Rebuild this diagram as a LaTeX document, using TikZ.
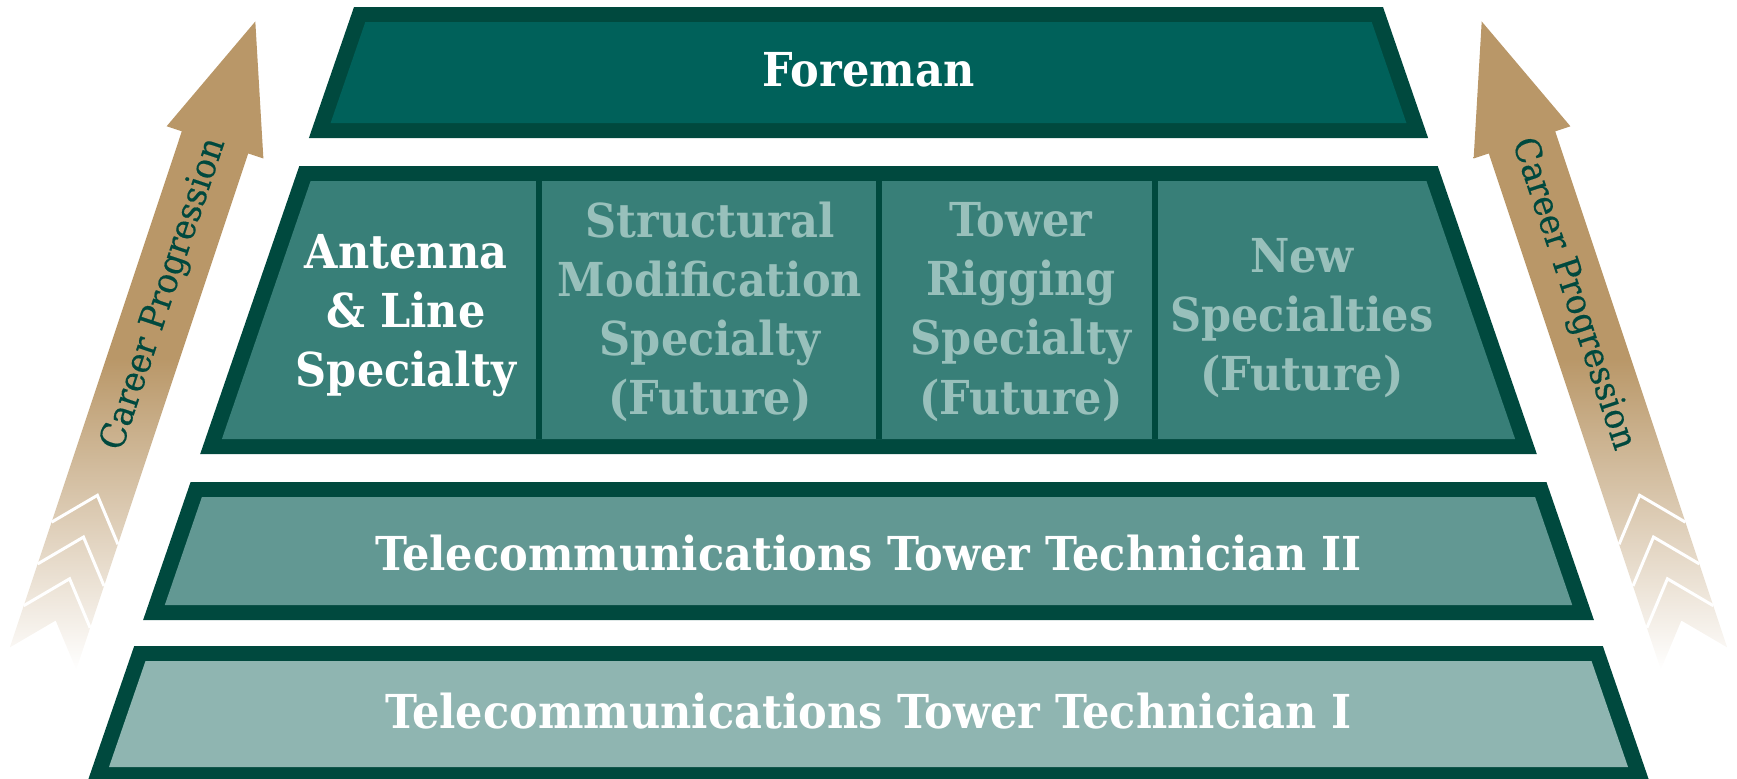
\documentclass[tikz,border=0pt]{standalone}
\usepackage{fontspec}
\setmainfont{DejaVu Serif}
\newfontfamily\tierfont{DejaVu Serif Bold}[FakeStretch=0.92]
\newfontfamily\careerfont{DejaVu Serif}[FakeStretch=0.94, FakeBold=0.4]
\usepackage{tikz}

\definecolor{pyrborder}{RGB}{0,73,62}
\definecolor{foremanfill}{RGB}{0,97,90}
\definecolor{specfill}{RGB}{56,127,120}
\definecolor{techtwofill}{RGB}{98,152,147}
\definecolor{techonefill}{RGB}{143,181,177}
\definecolor{futuretxt}{RGB}{152,192,187}
\definecolor{careergold}{RGB}{185,151,104}
\pgfdeclareverticalshading{careerfade}{100bp}{color(0bp)=(white); color(25bp)=(white); color(49bp)=(careergold); color(100bp)=(careergold)}

\tikzset{
  tiertext/.style={text=white, font=\tierfont\fontsize{13.3}{16.8}\selectfont, align=center},
  futuretext/.style={tiertext, text=futuretxt},
  careertext/.style={text=pyrborder, font=\careerfont\fontsize{10}{11}\selectfont}
}

\begin{document}
\begin{tikzpicture}[x=0.01cm, y=-0.01cm]
    \useasboundingbox (0,0) rectangle (1737,778);
    %%Foreman
    \fill[pyrborder] (354,7) -- (1383,7) -- (1428.1,138) -- (308.9,138) -- cycle;
    \fill[foremanfill] (365.3,22) -- (1371.7,22) -- (1406.4,123) -- (330.6,123) -- cycle;
    \node[tiertext] (foreman) at (868.5,70) {Foreman};
    %%Specialties
    \fill[pyrborder] (299.3,166) -- (1437.7,166) -- (1536.8,454) -- (200.2,454) -- cycle;
    \fill[specfill] (310.6,181) -- (1426.4,181) -- (1515.1,439) -- (221.9,439) -- cycle;
    \draw[pyrborder, line width=0.065cm] (539,181) -- (539,439) (879,181) -- (879,439) (1155,181) -- (1155,439);
    \node[tiertext] (antenna) at (406,316) {Antenna\\ \& Line\\ Specialty};
    \node[futuretext] (structural) at (710,312) {Structural\\ Modification\\ Specialty\\ (Future)};
    \node[futuretext] (rigging) at (1021,312) {Tower\\ Rigging\\ Specialty\\ (Future)};
    \node[futuretext] (newspec) at (1302,318) {New\\ Specialties\\ (Future)};
    %%Technician II
    \fill[pyrborder] (190.6,482) -- (1546.4,482) -- (1593.9,620) -- (143.1,620) -- cycle;
    \fill[techtwofill] (201.9,497) -- (1535.1,497) -- (1572.2,605) -- (164.8,605) -- cycle;
    \node[tiertext] (techtwo) at (868.5,553) {Telecommunications Tower Technician II};
    %%Technician I
    \fill[pyrborder] (134.2,646) -- (1602.8,646) -- (1649.6,782) -- (87.4,782) -- cycle;
    \fill[techonefill] (145.5,661) -- (1591.5,661) -- (1628,767) -- (109,767) -- cycle;
    \node[tiertext] (techone) at (868.5,711) {Telecommunications Tower Technician I};
    %%career arrow left
    \begin{scope}[shift={(215,142.4)}, rotate=-18.43]
      \shade[shading=careerfade] (0,-127.5) -- (51,0) -- (35,0) -- (35,544) -- (0,504) -- (-35,544) -- (-35,0) -- (-51,0) -- cycle;
      \draw[white, line width=0.03cm] (-35,412) -- (0,372) -- (35,412) (-35,456) -- (0,416) -- (35,456) (-35,500) -- (0,460) -- (35,500);
      \node[careertext, rotate=71.57] (careerL) at (0,160) {Career Progression};
    \end{scope}
    %%career arrow right
    \begin{scope}[shift={(1522,142.4)}, rotate=18.43]
      \shade[shading=careerfade] (0,-127.5) -- (51,0) -- (35,0) -- (35,544) -- (0,504) -- (-35,544) -- (-35,0) -- (-51,0) -- cycle;
      \draw[white, line width=0.03cm] (-35,412) -- (0,372) -- (35,412) (-35,456) -- (0,416) -- (35,456) (-35,500) -- (0,460) -- (35,500);
      \node[careertext, rotate=-71.57] (careerR) at (0,160) {Career Progression};
    \end{scope}
\end{tikzpicture}
\end{document}
